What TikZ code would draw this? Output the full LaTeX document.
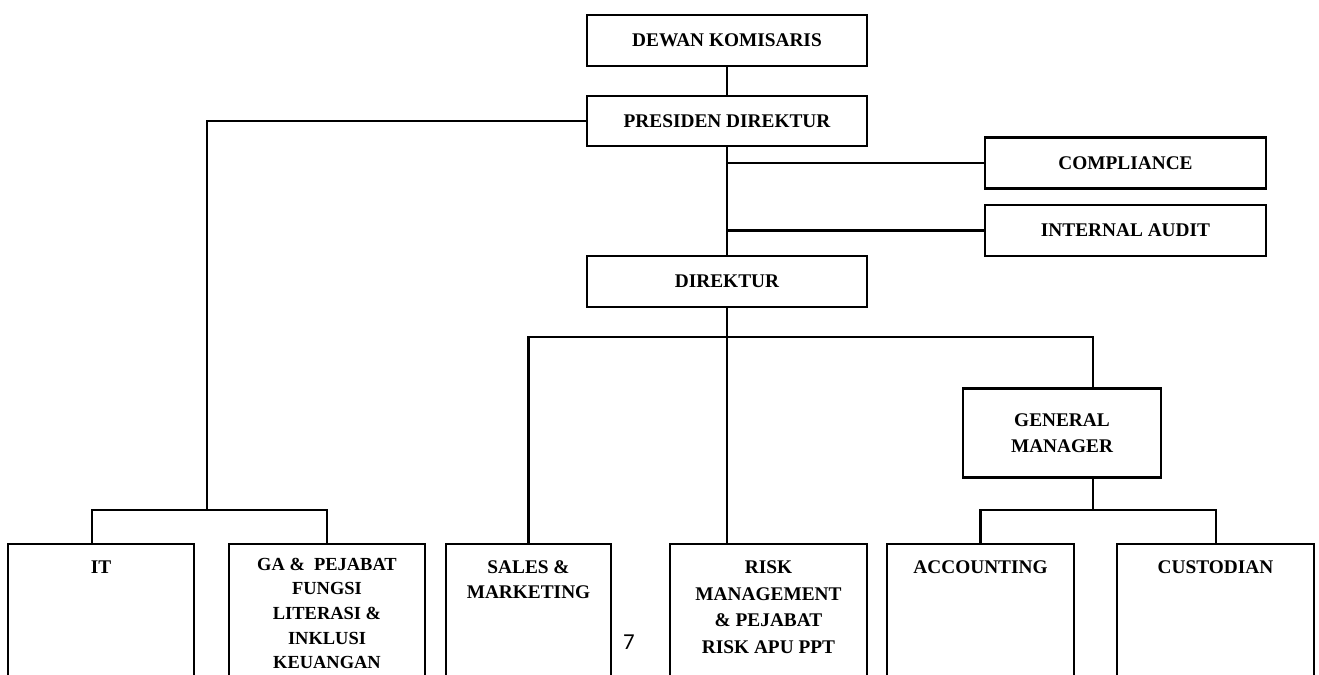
\documentclass[tikz,border=0pt]{standalone}
\usepackage{fontspec}
\setmainfont{Liberation Serif}
\newfontfamily\pagefont{Carlito}
\def\u{0.02cm}
\tikzset{
  jabatan/.style={draw, inner sep=0pt, align=center,
    font=\bfseries\fontsize{11}{14.5}\selectfont},
  unit/.style={jabatan, anchor=north, inner ysep=9.3pt, text depth=3cm},
}
\begin{document}
\begin{tikzpicture}[x=\u, y=-\u, line width=1.15pt]
\useasboundingbox (0,0) rectangle (1319,675);
\clip (0,0) rectangle (1319,675);
% pimpinan
\node[jabatan, minimum width=280*\u, minimum height=51*\u] (dk) at (727,40.5) {DEWAN KOMISARIS};
\node[jabatan, minimum width=280*\u, minimum height=50*\u] (pd) at (727,121) {PRESIDEN DIREKTUR};
\node[jabatan, minimum width=281*\u, minimum height=51*\u] (comp) at (1125.5,163) {COMPLIANCE};
\node[jabatan, minimum width=281*\u, minimum height=51*\u] (ia) at (1125.5,230.5) {INTERNAL AUDIT};
\node[jabatan, minimum width=280*\u, minimum height=51*\u] (dir) at (727,281.5) {DIREKTUR};
\node[jabatan, minimum width=198*\u, minimum height=89*\u] (gm) at (1062,433) {GENERAL\\MANAGER};
% unit kerja
\node[unit, minimum width=186*\u] (it) at (101,543) {IT};
\node[unit, minimum width=196*\u, inner ysep=8pt, font=\bfseries\fontsize{10.5}{14}\selectfont]
  (ga) at (327,543) {GA \&\ \ PEJABAT\\FUNGSI\\LITERASI \&\\INKLUSI\\KEUANGAN};
\node[unit, minimum width=165*\u] (sm) at (528.5,543) {SALES \&\\MARKETING};
\node[unit, minimum width=197*\u, font=\bfseries\fontsize{11}{15.3}\selectfont]
  (rm) at (768.5,543) {RISK\\MANAGEMENT\\\& PEJABAT\\RISK APU PPT};
\node[unit, minimum width=187*\u] (acc) at (980.5,543) {ACCOUNTING};
\node[unit, minimum width=197*\u] (cus) at (1215.5,543) {CUSTODIAN};
\node[font=\pagefont\fontsize{13}{13}\selectfont] (hal) at (629,642) {7};
% garis
\coordinate (lbus) at (207,510);
\coordinate (dbus) at (727,337);
\coordinate (gbus) at (1093,510);
\draw (dk) -- (pd);
\draw (pd.south) -- (dir.north);
\draw (comp.west) -- (comp.west -| pd.south);
\draw (ia.west) -- (ia.west -| pd.south);
\draw (pd.west) -| (lbus);
\draw ([xshift=-9*\u]it.north) |- (lbus) -| (ga.north);
\draw (dir.south) -- (dir.south |- rm.north);
\draw (sm.north) |- (dbus) -| ([xshift=31*\u]gm.north);
\draw ([xshift=31*\u]gm.south) -- (gbus);
\draw (acc.north) |- (gbus) -| (cus.north);
\end{tikzpicture}
\end{document}
